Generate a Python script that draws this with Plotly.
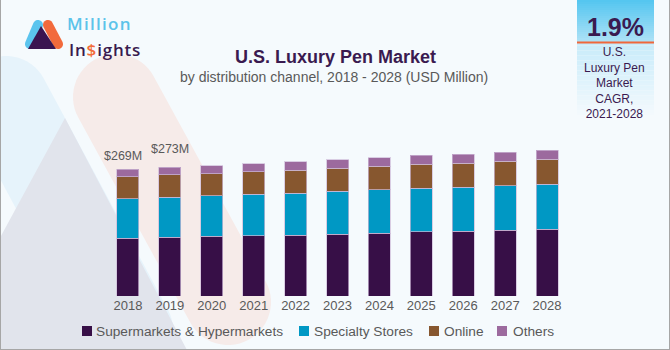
import math
import plotly.graph_objects as go

# ---------------- data ----------------
years = ['2018', '2019', '2020', '2021', '2022', '2023', '2024', '2025', '2026', '2027', '2028']
supermarkets = [123, 125, 126.5, 128, 129.5, 131.5, 133.5, 136, 137, 139.5, 141.5]
specialty = [83, 85, 86, 87.5, 89, 90.5, 92, 93, 94, 95, 96]
online = [47, 47, 47.5, 48, 48.5, 49, 49.5, 50.5, 51, 51.5, 52.5]
others = [16, 16.5, 17, 17.5, 17.5, 18, 18.5, 19, 19, 19.5, 19.5]
series_names = ['Supermarkets & Hypermarkets', 'Specialty Stores', 'Online', 'Others']
label_years = ['2018', '2019']
label_texts = ['$269M', '$273M']
cagr_value = '1.9%'
cagr_text = 'U.S.<br>Luxury Pen<br>Market<br>CAGR,<br>2021-2028'

# ---------------- layout geometry ----------------
W, H = 670, 350
ML, MR, MT, MB = 107, 102, 80, 54
PW, PH = W - ML - MR, H - MT - MB
Y_MAX = PH * 2.123

colors = ['#370f47', '#0098c4', '#87572f', '#9c6a9e']
bg = '#f5fafd'
txt_grey = '#595959'
purple = '#3a1a50'


def px(x):
    return (x - ML) / PW


def py(y):
    return (H - MB - y) / PH


def poly_path(pts):
    s = 'M ' + ' L '.join(f'{px(x):.5f},{py(y):.5f}' for x, y in pts) + ' Z'
    return s


def band_pts(c1, c2, hw, n=28):
    (x1, y1), (x2, y2) = c1, c2
    dx, dy = x2 - x1, y2 - y1
    ln = math.hypot(dx, dy)
    ux, uy = dx / ln, dy / ln
    nx, ny = -uy, ux
    pts = []
    for i in range(n + 1):
        t = math.pi * i / n
        pts.append((x2 + hw * (math.cos(t) * nx + math.sin(t) * ux),
                    y2 + hw * (math.cos(t) * ny + math.sin(t) * uy)))
    for i in range(n + 1):
        t = math.pi * i / n
        pts.append((x1 + hw * (-math.cos(t) * nx - math.sin(t) * ux),
                    y1 + hw * (-math.cos(t) * ny - math.sin(t) * uy)))
    return pts


shapes = []
# background decorations
shapes.append(dict(type='path', path=poly_path(band_pts((6, 99), (130, 330), 43)),
                   xref='paper', yref='paper', fillcolor='#e6f3fb', line=dict(width=0), layer='below'))
shapes.append(dict(type='path', path=poly_path(band_pts((116, 97), (228, 302), 43)),
                   xref='paper', yref='paper', fillcolor='#f6ebe9', line=dict(width=0), layer='below'))
shapes.append(dict(type='path', path=poly_path([(65, 118), (188, 352), (-62, 352)]),
                   xref='paper', yref='paper', fillcolor='#e1e4ec', line=dict(width=0), layer='below'))


# right CAGR box gradients
def lerp(c1, c2, t):
    a = [int(c1[i:i + 2], 16) for i in (1, 3, 5)]
    b = [int(c2[i:i + 2], 16) for i in (1, 3, 5)]
    return '#' + ''.join(f'{round(a[k] + (b[k] - a[k]) * t):02x}' for k in range(3))


BX0, BX1 = 577, 654
steps = 21
for i in range(steps):
    y0 = 42 * i / steps
    y1 = 42 * (i + 1) / steps
    shapes.append(dict(type='rect', xref='paper', yref='paper', x0=px(BX0), x1=px(BX1),
                       y0=py(y1), y1=py(y0), fillcolor=lerp('#55c6f0', '#ace1f6', i / (steps - 1)),
                       line=dict(width=0), layer='below'))
steps = 30
for i in range(steps):
    y0 = 43 + 75 * i / steps
    y1 = 43 + 75 * (i + 1) / steps
    shapes.append(dict(type='rect', xref='paper', yref='paper', x0=px(BX0), x1=px(BX1),
                       y0=py(y1), y1=py(y0), fillcolor=lerp('#c8ebfa', bg, i / (steps - 1)),
                       line=dict(width=0), layer='below'))
shapes.append(dict(type='line', xref='paper', yref='paper', x0=px(BX0), x1=px(BX1),
                   y0=py(42.5), y1=py(42.5), line=dict(color='#f0673a', width=2)))

# logo
shapes.append(dict(type='path', path=poly_path(band_pts((30, 44), (38, 25), 5, 12)),
                   xref='paper', yref='paper', fillcolor='#5bc4ee', line=dict(width=0)))
shapes.append(dict(type='path', path=poly_path(band_pts((48, 25), (58, 44), 5, 12)),
                   xref='paper', yref='paper', fillcolor='#f26a3c', line=dict(width=0)))
shapes.append(dict(type='path', path=poly_path([(41, 26), (56, 49), (28, 49)]),
                   xref='paper', yref='paper', fillcolor='#3a1450', line=dict(width=0)))

# frame
for (x0, y0, x1, y1) in [(0.5, 0, 0.5, 350), (669.5, 0, 669.5, 350), (0, 349.5, 670, 349.5)]:
    shapes.append(dict(type='line', xref='paper', yref='paper', x0=px(x0), x1=px(x1),
                       y0=py(y0), y1=py(y1), line=dict(color='#a6a6a6', width=1)))

# custom legend squares and labels
legend_sq_x = [82, 299, 429, 497]
legend_tx_x = [95, 313, 443, 512]
LEG_Y = 331
annotations = []
for i, name in enumerate(series_names):
    shapes.append(dict(type='rect', xref='paper', yref='paper',
                       x0=px(legend_sq_x[i]), x1=px(legend_sq_x[i] + 10),
                       y0=py(LEG_Y + 5), y1=py(LEG_Y - 5), fillcolor=colors[i], line=dict(width=0)))
    annotations.append(dict(xref='paper', yref='paper', x=px(legend_tx_x[i] - 1), y=py(LEG_Y),
                            xanchor='left', yanchor='middle', showarrow=False, text=name,
                            font=dict(size=13.7, color=txt_grey)))

# ---------------- figure ----------------
fig = go.Figure()
for name, vals, col in zip(series_names, [supermarkets, specialty, online, others], colors):
    fig.add_trace(go.Bar(x=years, y=vals, name=name, marker=dict(color=col,
                         line=dict(color='rgba(205,185,215,0.7)', width=1)),
                         showlegend=False, hoverinfo='skip'))

totals = [a + b + c + d for a, b, c, d in zip(supermarkets, specialty, online, others)]
shifts = [(-5, 13), (0, 18.5)]
for yr, t, (xs, ys) in zip(label_years, label_texts, shifts):
    idx = years.index(yr)
    annotations.append(dict(xref='x', yref='y', x=idx, y=totals[idx], text=t, showarrow=False,
                            xanchor='center', yanchor='middle', xshift=xs, yshift=ys,
                            font=dict(size=12.5, color=txt_grey)))

# titles
annotations.append(dict(xref='paper', yref='paper', x=px(335), y=py(57), xanchor='center', yanchor='middle',
                        showarrow=False, text='<b>U.S. Luxury Pen Market</b>',
                        font=dict(size=18, color=purple)))
annotations.append(dict(xref='paper', yref='paper', x=px(334), y=py(77), xanchor='center', yanchor='middle',
                        showarrow=False, text='by distribution channel, 2018 - 2028 (USD Million)',
                        font=dict(size=14, color=txt_grey)))
# CAGR box text
annotations.append(dict(xref='paper', yref='paper', x=px(615), y=py(27), xanchor='center', yanchor='middle',
                        showarrow=False, text=f'<b>{cagr_value}</b>', font=dict(size=25, color=purple)))
annotations.append(dict(xref='paper', yref='paper', x=px(614), y=py(83), xanchor='center', yanchor='middle',
                        showarrow=False, text=cagr_text, font=dict(size=12, color=purple)))
# logo text
annotations.append(dict(xref='paper', yref='paper', x=px(66), y=py(36), xanchor='left', yanchor='bottom',
                        showarrow=False, borderpad=0,
                        text="<span style='letter-spacing:1.3px'>Million</span>",
                        font=dict(size=17, color='#5bc3ea', family='Open Sans', weight=600)))
annotations.append(dict(xref='paper', yref='paper', x=px(68), y=py(36.5), xanchor='left', yanchor='top',
                        showarrow=False, borderpad=0,
                        text="<span style='letter-spacing:0.8px'>In<span style='color:#f26b3a'>$</span>ights</span>",
                        font=dict(size=17, color='#3a1a4e', family='Open Sans', weight=600)))

fig.update_layout(
    width=W, height=H, autosize=False,
    margin=dict(l=ML, r=MR, t=MT, b=MB, pad=0),
    paper_bgcolor=bg, plot_bgcolor='rgba(0,0,0,0)',
    barmode='stack', bargap=0.475,
    font=dict(family='Liberation Sans, Arial, sans-serif', color=txt_grey),
    shapes=shapes, annotations=annotations, showlegend=False,
)
fig.update_xaxes(type='category', range=[-0.5, len(years) - 0.5], autorange=False,
                 showgrid=False, zeroline=False, showline=False, ticks='',
                 tickfont=dict(size=13, color=txt_grey), fixedrange=True)
fig.update_yaxes(range=[0, Y_MAX], autorange=False, visible=False, showgrid=False,
                 zeroline=False, fixedrange=True)

fig.write_html('out.html', config={'displayModeBar': False})
